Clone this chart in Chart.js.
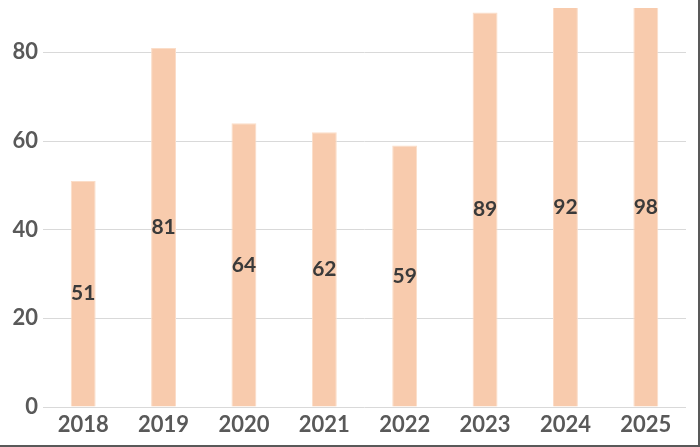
<!DOCTYPE html>
<html>
<head>
<meta charset="utf-8">
<script src="https://cdn.jsdelivr.net/npm/chart.js@4/dist/chart.umd.min.js"></script>
<style>
    html, body { margin: 0; padding: 0; background: #fff; }
    #frame {
        width: 698px; height: 445px;
        border-right: 2px solid #595959;
        border-bottom: 2px solid #595959;
        position: relative;
    }
</style>
</head>
<body>
<div id="frame"><canvas id="chart" width="698" height="445"></canvas></div>
<script>
const years = ['2018', '2019', '2020', '2021', '2022', '2023', '2024', '2025'];
const values = [51, 81, 64, 62, 59, 89, 92, 98];
const yTicks = [0, 20, 40, 60, 80];

const FONT = 'Lato, "Open Sans", sans-serif';

// values printed in the middle of the visible part of each bar
const barLabels = {
    id: 'barLabels',
    afterDatasetsDraw(chart) {
        const { ctx, chartArea } = chart;
        const meta = chart.getDatasetMeta(0);
        ctx.save();
        ctx.font = 'bold 21px ' + FONT;
        ctx.fillStyle = '#3a3a3a';
        ctx.textAlign = 'center';
        ctx.textBaseline = 'middle';
        meta.data.forEach((bar, i) => {
            const top = Math.max(bar.y, chartArea.top);
            ctx.fillText(String(values[i]), bar.x, (top + bar.base) / 2);
        });
        ctx.restore();
    }
};

new Chart(document.getElementById('chart').getContext('2d'), {
    type: 'bar',
    data: {
        labels: years,
        datasets: [{
            data: values,
            backgroundColor: '#F8CBAD',
            borderColor: '#FBDDC8',
            borderWidth: 1,
            barPercentage: 0.31,
            categoryPercentage: 1
        }]
    },
    options: {
        responsive: false,
        animation: false,
        layout: { padding: { top: 8, right: 12, left: 0, bottom: 0 } },
        plugins: {
            legend: { display: false },
            tooltip: { enabled: false }
        },
        scales: {
            x: {
                grid: { display: false },
                border: { display: false },
                ticks: { color: '#595959', font: { family: FONT, size: 22, weight: 'bold' }, padding: -3 },
                afterFit(scale) { scale.height = 38; }
            },
            y: {
                min: 0,
                max: 90,
                afterBuildTicks(scale) { scale.ticks = yTicks.map(v => ({ value: v })); },
                grid: { color: '#d9d9d9', drawTicks: false },
                border: { display: false },
                ticks: { color: '#595959', font: { family: FONT, size: 22, weight: 'bold' }, padding: 5 },
                afterFit(scale) { scale.width = 43; scale.paddingTop = 0; }
            }
        }
    },
    plugins: [barLabels]
});
</script>
</body>
</html>
